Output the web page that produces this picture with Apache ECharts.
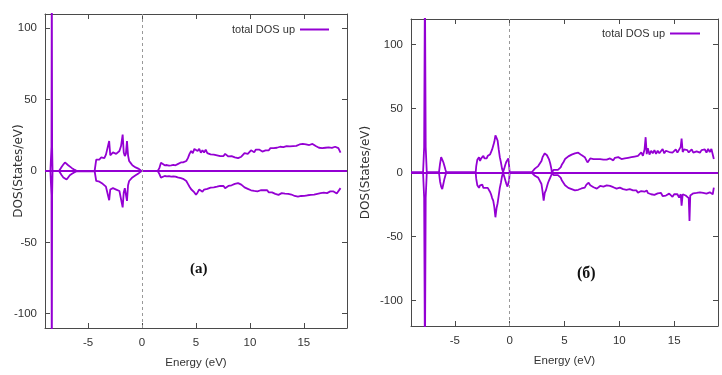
<!DOCTYPE html>
<html>
<head>
<meta charset="utf-8">
<script src="https://cdn.jsdelivr.net/npm/echarts@6/dist/echarts.min.js"></script>
<style>
  html, body { margin: 0; padding: 0; background: #fff; }
  #chart { width: 722px; height: 375px; }
</style>
</head>
<body>
<div id="chart"></div>
<script>
// energy grid and DOS values
const energyA = [
  -9.0, -8.5, -8.45, -8.4, -8.37, -8.34, -8.3, -7.7,
  -7.6, -7.45, -7.3, -7.15, -7.0, -6.85, -6.7, -6.5, -6.3, -6.1, -6.0,
  -4.4, -4.3, -4.25, -4.1, -3.95, -3.8, -3.65, -3.5, -3.35, -3.2, -3.05, -2.95, -2.85, -2.7, -2.55, -2.4, -2.25, -2.1, -1.95, -1.8, -1.7, -1.6, -1.5, -1.4, -1.3, -1.2, -1.05, -0.9, -0.75, -0.6, -0.45, -0.3, -0.15, -0.05,
  1.45, 1.6, 1.75, 1.9, 2.1, 2.3, 2.5, 2.7, 2.9, 3.1, 3.3, 3.45, 3.6, 3.8, 3.95, 4.1, 4.25, 4.4, 4.55, 4.7, 4.85,
  5.0, 5.15, 5.3, 5.45, 5.6, 5.75, 5.9, 6.05, 6.2, 6.35,
  6.5, 6.65, 6.8, 6.95, 7.1, 7.25, 7.4, 7.55, 7.7, 7.85,
  8.0, 8.15, 8.3, 8.45, 8.6, 8.75, 8.9, 9.05, 9.2, 9.35,
  9.5, 9.65, 9.8, 9.95, 10.1, 10.25, 10.4, 10.55, 10.7, 10.85,
  11.0, 11.15, 11.3, 11.45, 11.6, 11.75, 11.9, 12.05, 12.2, 12.35,
  12.5, 12.65, 12.8, 12.95, 13.1, 13.25, 13.4, 13.55, 13.7, 13.85,
  14.0, 14.15, 14.3, 14.45, 14.6, 14.75, 14.9, 15.05, 15.2, 15.35,
  15.5, 15.65, 15.8, 15.95, 16.1, 16.25, 16.4, 16.55, 16.7, 16.85,
  17.0, 17.15, 17.3, 17.45, 17.6, 17.75, 17.9, 18.05, 18.2, 18.4
];
const upA = [
  0, 0, 0, 17, 150, 17, 0, 0,
  0, 3, 4.5, 6, 5.5, 4, 3, 2, 1, 0.3, 0,
  0, 0, 8, 9, 8, 9.5, 10, 9, 11.5, 12, 21, 11, 10.5, 13, 14, 12, 13, 14, 17.5, 25.5, 13, 10.5, 12, 21, 11, 7, 5.5, 4, 4.5, 2.5, 2.3, 1.5, 0.5, 0,
  0, 2, 5.8, 5, 4, 4.2, 3.8, 4, 4.3, 4, 4.8, 4.6, 6, 6, 5.8, 7, 9, 12, 14, 12.5, 15.5,
  16.2, 14, 15.5, 12.8, 14.5, 13, 15, 12.5, 13.5, 11.6,
  13, 11.5, 12.8, 11, 12, 10.4, 11.5, 10.5, 12, 11,
  10.2, 11.5, 10.4, 10, 9.5, 10.5, 9, 8.8, 10, 11,
  12.5, 13.5, 12, 13, 14.5, 14, 13.2, 15, 14.2, 15,
  14, 13.6, 15, 14.5, 15.5, 14.5, 16, 16.7, 16, 16.8,
  16.3, 15.8, 17, 16.2, 16.8, 16.7, 17.5, 16.8, 17.2, 17.4,
  17.4, 18, 17.6, 18.3, 18.6, 18, 19, 18.6, 18.6, 19,
  18.2, 18.8, 19, 18, 17.5, 17, 16.3, 17, 16, 16.5,
  16.3, 15.5, 16.5, 15.7, 16.2, 15.5, 17, 17.4, 16, 12.8
];
const downA = [
  0, 0, 0, -17, -150, -17, 0, 0,
  0, -3, -4.5, -5.5, -6, -4.5, -3, -2, -1, -0.3, 0,
  0, 0, -7, -8, -7.5, -8, -9, -9.5, -11, -12, -20.5, -13, -12.5, -12, -11.5, -13, -12.5, -14, -15, -25.5, -15, -12, -13, -21, -10, -7, -5.8, -4.5, -4, -3, -2.3, -1.5, -0.5, 0,
  0, -2, -4.6, -4, -3.5, -3.8, -3.6, -3.9, -3.7, -3.9, -4.5, -4.2, -5, -5.5, -6, -7, -9, -11, -12.8, -14, -15,
  -16.7, -15, -13, -12.8, -14.5, -13, -14, -12.5, -13, -11.6,
  -12.5, -11.5, -12.8, -11, -11.5, -10.4, -11, -10.5, -12, -11,
  -10.5, -11, -10, -10.4, -9, -9.5, -8.5, -8.1, -9.5, -10.5,
  -11.5, -12, -12.5, -12, -13.5, -13, -14, -13, -14.3, -14.3,
  -13.5, -14.5, -13.5, -14, -13.5, -15, -14.5, -15, -15.5, -16,
  -15.5, -16.7, -16, -15.5, -16.5, -15.8, -16.5, -16, -17, -16.5,
  -17, -17.5, -17, -18, -18, -17.5, -18.2, -17.4, -17.8, -17,
  -17.5, -16.7, -17.2, -16.5, -16.8, -16, -16.3, -15.5, -16, -15.2,
  -15, -15.5, -14.8, -14.3, -15, -14.3, -15.5, -15.8, -14.5, -12
];

// energy grid and DOS values (б)
const energyB = [
  -9.0, -7.9, -7.8, -7.73, -7.66, -7.56,
  -6.45, -6.35, -6.25, -6.15, -6.05, -5.95, -5.85, -5.78,
  -3.1, -3.05, -2.95, -2.8, -2.7, -2.6, -2.5, -2.4, -2.3, -2.2, -2.1, -2.0, -1.9, -1.8, -1.7, -1.6, -1.5, -1.4, -1.3, -1.2, -1.1, -1.0, -0.9, -0.8, -0.7, -0.6, -0.5, -0.4, -0.3, -0.2, -0.12, -0.05, 0.0,
  2.0, 2.15, 2.3, 2.45, 2.6, 2.75, 2.9, 3.0, 3.1, 3.2, 3.3, 3.4, 3.5, 3.6, 3.7, 3.8, 3.85, 3.9, 4.0, 4.2, 4.4, 4.55, 4.65, 4.75, 4.9,
  5.05, 5.2, 5.35, 5.5, 5.65, 5.8, 5.95, 6.1, 6.25, 6.4,
  6.55, 6.7, 6.85, 7.0, 7.1, 7.2, 7.35, 7.5, 7.65, 7.8,
  7.95, 8.1, 8.25, 8.4, 8.55, 8.7, 8.85, 9.0, 9.15, 9.3,
  9.45, 9.6, 9.75, 9.9, 10.05, 10.2, 10.35, 10.5, 10.65, 10.8,
  10.95, 11.1, 11.25, 11.4, 11.55, 11.7, 11.85, 12.0, 12.15, 12.3,
  12.4, 12.5, 12.6, 12.75, 12.9, 13.05, 13.2, 13.35, 13.5, 13.65,
  13.8, 13.95, 14.1, 14.25, 14.4, 14.55, 14.7, 14.85, 15.0, 15.15,
  15.3, 15.45, 15.6, 15.68, 15.78, 15.9, 16.05, 16.2, 16.33, 16.4,
  16.47, 16.6, 16.75, 16.9, 17.05, 17.2, 17.35, 17.5, 17.65, 17.8,
  17.95, 18.1, 18.25, 18.4, 18.52, 18.62
];
const upB = [
  0, 0, 20, 150, 20, 0,
  0, 7, 12, 10, 8, 5, 2, 0,
  0, 5, 10, 12, 9, 11, 10, 13, 11, 12.5, 11, 13, 11.8, 14, 16, 18, 19, 24, 29, 27, 25, 18, 12, 8, 3, 0.5, 3, 6, 8.5, 10, 11, 5, 0,
  0, 1.5, 3, 4, 5, 6, 9, 12, 13, 15, 14, 13.5, 12, 10, 7, 3, 0, 0, 2, 2, 2, 2, 4, 6, 8,
  10.5, 11, 12.6, 12, 14, 13.6, 15, 14, 15.5, 14,
  13.6, 12.5, 12, 9.5, 7.9, 9, 11, 11.8, 10.5, 12,
  10.5, 11.5, 10.5, 11, 10, 11.5, 10, 9.5, 11, 10.5,
  9.5, 11.5, 11, 12, 11.8, 10.5, 12, 11, 12.5, 11.5,
  13, 12, 13.5, 12.5, 14, 13, 13.6, 15.7, 13, 18,
  27.6, 14.4, 19, 14, 17, 15, 17.5, 14.5, 17, 15,
  16, 18.4, 15, 17, 18.4, 16, 17, 15.5, 16, 18,
  15.5, 17, 20, 26.5, 16, 18, 16.5, 17.5, 15.7, 17,
  16, 18, 15.5, 17, 16.5, 18, 15.5, 17.5, 16.3, 18,
  15.5, 18.4, 16, 18.4, 18, 10.5
];
const downB = [
  0, 0, -20, -150, -20, 0,
  0, -7, -11, -13, -9, -5, -2, 0,
  0, -5, -10, -12, -10, -11, -9.5, -12, -11, -12, -10.5, -12, -13, -15, -17, -20, -22, -27, -35, -28, -24, -18, -12, -8, -3, -0.5, -3, -6, -9, -11, -12, -6, 0,
  0, -1.5, -2.6, -3.5, -4, -5, -9, -15, -22, -16, -14, -11, -8, -6, -4, -2, 0, 0, -2, -2, -2, -2, -4, -6, -8,
  -10, -11, -12, -12.6, -13, -12.6, -14, -14.4, -13.5, -13,
  -12.5, -12, -11.8, -9.5, -8.5, -8, -10, -10.5, -11.5, -12,
  -12.6, -11.5, -10.5, -10.5, -11, -10, -10, -11, -10.5, -10.5,
  -11.5, -12, -12.6, -11.5, -11.8, -12.5, -13, -12, -13.5, -14,
  -13, -14.4, -14, -15, -14, -15.7, -15, -14.5, -16, -15,
  -15.5, -14, -16, -15.5, -17, -16, -17.5, -16, -16.3, -17.5,
  -16, -18.4, -17, -18, -17.5, -16.5, -17, -19, -17, -18,
  -17, -19.7, -17, -26, -17, -16.5, -18, -16.5, -20, -37.8,
  -18, -17, -16.3, -17.5, -16, -17, -15.5, -17, -16, -17.5,
  -16.5, -17, -15.5, -16.5, -17, -11.8
];

const xTicks = [-5, 0, 5, 10, 15];
const yTicks = [-100, -50, 0, 50, 100];
const legendName = 'total DOS up';

const purple = '#9400d3';
const frame = '#4a4a4a';
const font = 'Liberation Sans';

const pairs = (xs, ys) => xs.map((x, i) => [x, ys[i]]);

const chart = echarts.init(document.getElementById('chart'));

function xAx(grid, top, name) {
  return {
    type: 'value', gridIndex: grid, min: -9, max: 19,
    position: top ? 'top' : 'bottom',
    name: top ? '' : name, nameLocation: 'middle', nameGap: 29,
    nameTextStyle: { fontFamily: font, fontSize: 11.5, color: '#333' },
    axisLine: { show: true, onZero: false, lineStyle: { color: frame, width: 1 } },
    axisTick: { show: true, inside: true, length: 5, customValues: xTicks, lineStyle: { color: frame } },
    axisLabel: { show: !top, customValues: xTicks, margin: 9, fontFamily: font, fontSize: 11.5, color: '#333' },
    splitLine: { show: false }
  };
}
function yAx(grid, right, lim, name, gap) {
  return {
    type: 'value', gridIndex: grid, min: -lim, max: lim,
    position: right ? 'right' : 'left',
    name: right ? '' : name, nameLocation: 'middle', nameGap: gap,
    nameMoveOverlap: false,
    nameTextStyle: { fontFamily: 'DejaVu Sans', fontSize: 12, color: '#333' },
    axisLine: { show: true, onZero: false, lineStyle: { color: frame, width: 1 } },
    axisTick: { show: true, inside: true, length: 5, customValues: yTicks, lineStyle: { color: frame } },
    axisLabel: { show: !right, customValues: yTicks, margin: 8, fontFamily: font, fontSize: 11.5, color: '#333' },
    splitLine: { show: false }
  };
}

const refLines = {
  symbol: 'none', silent: true, label: { show: false },
  data: [
    { yAxis: 0, lineStyle: { color: purple, type: 'solid', width: 2 } },
    { xAxis: 0, lineStyle: { color: '#999', type: [3, 3], width: 1 } }
  ]
};

function dosSeries(name, xi, data, withLines) {
  const s = {
    name: name, type: 'line', xAxisIndex: xi, yAxisIndex: xi,
    data: data, symbol: 'none', clip: true, animation: false,
    lineStyle: { color: purple, width: 1.8 }, itemStyle: { color: purple }
  };
  if (withLines) s.markLine = refLines;
  return s;
}

const option = {
  backgroundColor: '#fff',
  animation: false,
  grid: [
    { left: 45, top: 14, width: 302, height: 314 },
    { left: 411, top: 19, width: 307, height: 307 }
  ],
  legend: [
    { data: [legendName], right: 388, top: 19, align: 'right', icon: 'rect', itemWidth: 29, itemHeight: 2,
      itemGap: 0, textStyle: { fontFamily: font, fontSize: 11, color: '#333' } },
    { data: [legendName], right: 17, top: 23, align: 'right', icon: 'rect', itemWidth: 30, itemHeight: 2,
      itemGap: 0, textStyle: { fontFamily: font, fontSize: 11, color: '#333' } }
  ],
  xAxis: [xAx(0, false, 'Energy (eV)'), xAx(0, true), xAx(1, false, 'Energy (eV)'), xAx(1, true)],
  yAxis: [yAx(0, false, 110, 'DOS(States/eV)', 20), yAx(0, true, 110), yAx(1, false, 120, 'DOS(States/eV)', 39), yAx(1, true, 120)],
  series: [
    dosSeries(legendName, 0, pairs(energyA, upA), true),
    dosSeries('total DOS down', 0, pairs(energyA, downA), false),
    dosSeries(legendName, 2, pairs(energyB, upB), true),
    dosSeries('total DOS down', 2, pairs(energyB, downB), false)
  ],
  graphic: [
    { type: 'text', left: 190, top: 262, style: { text: '(a)', fontFamily: 'Liberation Serif', fontWeight: 'bold', fontSize: 15, fill: '#111' } },
    { type: 'text', left: 577, top: 266, style: { text: '(б)', fontFamily: 'Liberation Serif', fontWeight: 'bold', fontSize: 16, fill: '#111' } }
  ]
};

chart.setOption(option);
</script>
</body>
</html>
